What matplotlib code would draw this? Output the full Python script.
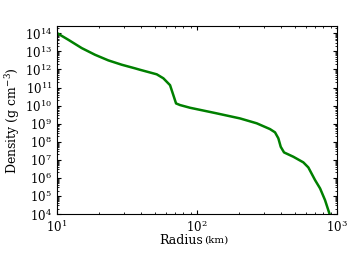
import matplotlib
matplotlib.use("Agg")
import matplotlib.pyplot as plt
import numpy as np

plt.rcParams['font.family'] = 'DejaVu Serif'
plt.rcParams['mathtext.fontset'] = 'dejavuserif'

# radius in km, log10 of density in g cm^-3
radius = [10.0, 12.04, 15.01, 18.68, 23.25, 28.98, 36.06, 39.17, 51.54, 57.45,
          64.14, 67.7, 70.8, 75.6, 89.1, 134.5, 202.9, 266.9, 332, 360.6,
          380.8, 396.1, 418.2, 487.5, 574.4, 623.7, 696.5, 756.4, 820.9, 881]
log_density = [14.01, 13.64, 13.18, 12.81, 12.50, 12.26, 12.06, 11.98, 11.73, 11.51,
               11.13, 10.58, 10.12, 10.03, 9.88, 9.59, 9.29, 9.02, 8.70, 8.52,
               8.19, 7.72, 7.41, 7.17, 6.86, 6.58, 5.88, 5.42, 4.77, 4.04]
density = 10.0 ** np.array(log_density)

fig = plt.figure(figsize=(3.5, 2.63), dpi=100)
ax = fig.add_axes([0.163, 0.186, 0.80, 0.715])
ax.plot(radius, density, color='green', lw=1.8)
ax.set_xscale('log')
ax.set_yscale('log')
ax.set_xlim(10, 1000)
ax.set_ylim(1e4, 10 ** 14.4)
ax.yaxis.set_major_locator(matplotlib.ticker.LogLocator(base=10, numticks=20))
ax.yaxis.set_minor_locator(matplotlib.ticker.LogLocator(base=10, subs=np.arange(2, 10), numticks=20))
ax.tick_params(which='both', direction='in', top=True, right=True, labelsize=8.5)
ax.tick_params(which='major', length=3)
ax.tick_params(which='minor', length=1.5)
fig.text(203 / 350, 1 - 240 / 263, 'Radius', ha='right', va='center', fontsize=9)
fig.text(204 / 350, 1 - 240 / 263, '(km)', ha='left', va='center', fontsize=7.5)
ax.set_ylabel(r'Density $(\mathrm{g\ cm}^{-3})$', fontsize=9, labelpad=2)
fig.savefig('out.png', dpi=100)
